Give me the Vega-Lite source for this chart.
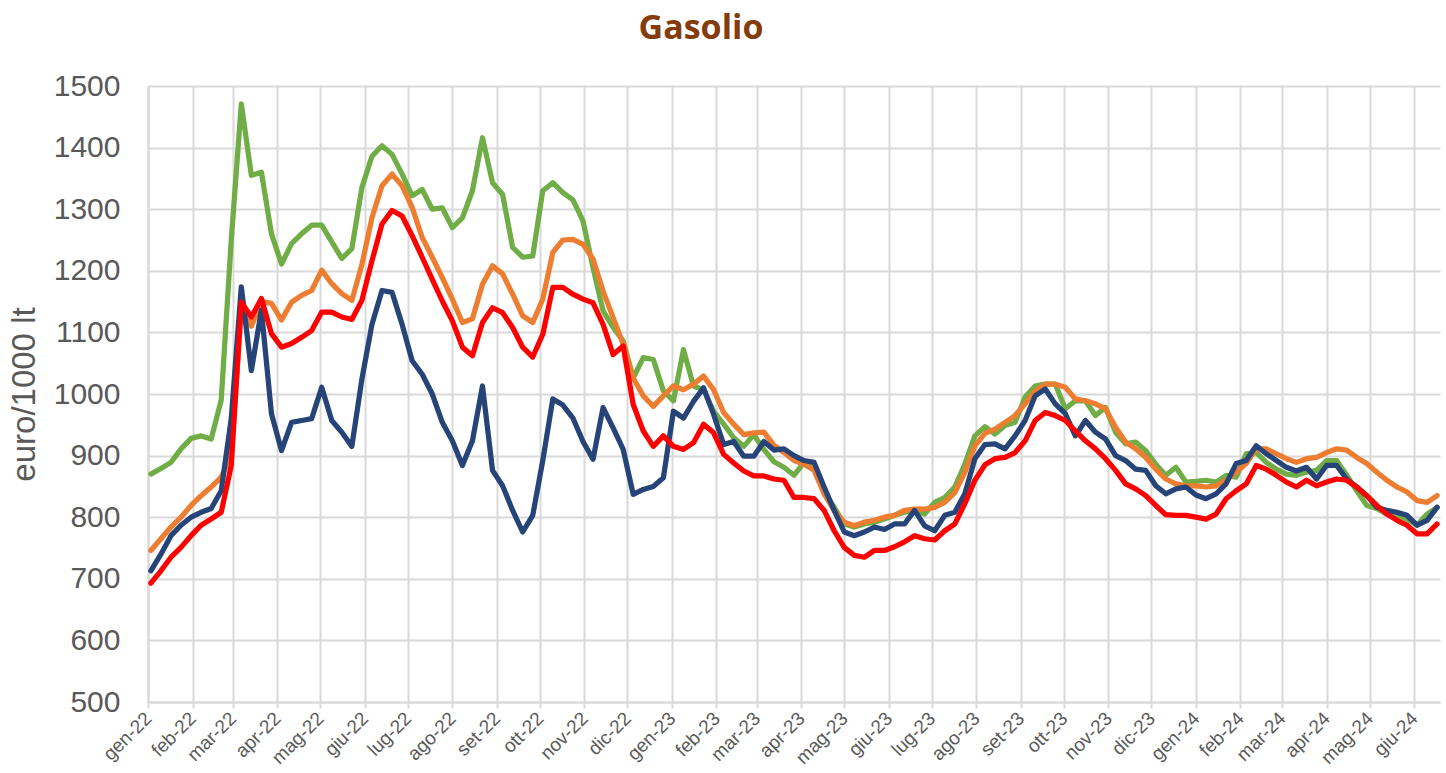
{
  "$schema": "https://vega.github.io/schema/vega-lite/v6.json",
  "width": 1292,
  "height": 616,
  "autosize": "none",
  "padding": {"left": 148, "top": 86, "right": 6, "bottom": 71},
  "background": "white",
  "title": {
    "text": "Gasolio",
    "font": "Open Sans",
    "fontSize": 34,
    "fontWeight": "bold",
    "color": "#843C0C",
    "anchor": "middle",
    "dx": -93,
    "baseline": "alphabetic",
    "offset": -2
  },
  "data": {
    "values": [
      {"d":"2022-01-03","verde":870,"arancione":746,"rosso":693,"blu":713},
      {"d":"2022-01-10","verde":879,"arancione":765,"rosso":713,"blu":740},
      {"d":"2022-01-17","verde":889,"arancione":784,"rosso":735,"blu":770},
      {"d":"2022-01-24","verde":911,"arancione":800,"rosso":751,"blu":787},
      {"d":"2022-01-31","verde":928,"arancione":819,"rosso":770,"blu":800},
      {"d":"2022-02-07","verde":932,"arancione":835,"rosso":787,"blu":808},
      {"d":"2022-02-14","verde":927,"arancione":849,"rosso":797,"blu":814},
      {"d":"2022-02-21","verde":990,"arancione":865,"rosso":808,"blu":843},
      {"d":"2022-02-28","verde":1250,"arancione":900,"rosso":884,"blu":960},
      {"d":"2022-03-07","verde":1471,"arancione":1140,"rosso":1149,"blu":1174},
      {"d":"2022-03-14","verde":1355,"arancione":1110,"rosso":1125,"blu":1038},
      {"d":"2022-03-21","verde":1360,"arancione":1150,"rosso":1155,"blu":1136},
      {"d":"2022-03-28","verde":1260,"arancione":1147,"rosso":1098,"blu":968},
      {"d":"2022-04-04","verde":1211,"arancione":1120,"rosso":1076,"blu":908},
      {"d":"2022-04-11","verde":1244,"arancione":1149,"rosso":1082,"blu":954},
      {"d":"2022-04-18","verde":1260,"arancione":1160,"rosso":1092,"blu":957},
      {"d":"2022-04-25","verde":1274,"arancione":1168,"rosso":1103,"blu":960},
      {"d":"2022-05-02","verde":1274,"arancione":1201,"rosso":1133,"blu":1011},
      {"d":"2022-05-09","verde":1247,"arancione":1179,"rosso":1133,"blu":957},
      {"d":"2022-05-16","verde":1220,"arancione":1163,"rosso":1125,"blu":938},
      {"d":"2022-05-23","verde":1236,"arancione":1152,"rosso":1121,"blu":915},
      {"d":"2022-05-30","verde":1335,"arancione":1210,"rosso":1152,"blu":1024},
      {"d":"2022-06-06","verde":1386,"arancione":1286,"rosso":1216,"blu":1113},
      {"d":"2022-06-13","verde":1403,"arancione":1338,"rosso":1276,"blu":1168},
      {"d":"2022-06-20","verde":1389,"arancione":1357,"rosso":1298,"blu":1165},
      {"d":"2022-06-27","verde":1357,"arancione":1338,"rosso":1289,"blu":1113},
      {"d":"2022-07-04","verde":1322,"arancione":1303,"rosso":1257,"blu":1054},
      {"d":"2022-07-11","verde":1332,"arancione":1254,"rosso":1222,"blu":1032},
      {"d":"2022-07-18","verde":1300,"arancione":1222,"rosso":1186,"blu":1000},
      {"d":"2022-07-25","verde":1302,"arancione":1189,"rosso":1151,"blu":954},
      {"d":"2022-08-01","verde":1270,"arancione":1154,"rosso":1119,"blu":924},
      {"d":"2022-08-08","verde":1286,"arancione":1116,"rosso":1076,"blu":884},
      {"d":"2022-08-15","verde":1330,"arancione":1122,"rosso":1062,"blu":924},
      {"d":"2022-08-22","verde":1416,"arancione":1178,"rosso":1116,"blu":1013},
      {"d":"2022-08-29","verde":1343,"arancione":1208,"rosso":1140,"blu":876},
      {"d":"2022-09-05","verde":1324,"arancione":1195,"rosso":1132,"blu":851},
      {"d":"2022-09-12","verde":1238,"arancione":1162,"rosso":1108,"blu":811},
      {"d":"2022-09-19","verde":1222,"arancione":1127,"rosso":1076,"blu":776},
      {"d":"2022-09-26","verde":1224,"arancione":1116,"rosso":1060,"blu":803},
      {"d":"2022-10-03","verde":1330,"arancione":1154,"rosso":1097,"blu":892},
      {"d":"2022-10-10","verde":1343,"arancione":1230,"rosso":1173,"blu":992},
      {"d":"2022-10-17","verde":1327,"arancione":1250,"rosso":1173,"blu":982},
      {"d":"2022-10-24","verde":1315,"arancione":1251,"rosso":1162,"blu":961},
      {"d":"2022-10-31","verde":1281,"arancione":1243,"rosso":1154,"blu":923},
      {"d":"2022-11-07","verde":1205,"arancione":1219,"rosso":1148,"blu":894},
      {"d":"2022-11-14","verde":1135,"arancione":1167,"rosso":1113,"blu":978},
      {"d":"2022-11-21","verde":1108,"arancione":1124,"rosso":1064,"blu":945},
      {"d":"2022-11-28","verde":1086,"arancione":1081,"rosso":1078,"blu":910},
      {"d":"2022-12-05","verde":1026,"arancione":1026,"rosso":983,"blu":837},
      {"d":"2022-12-12","verde":1059,"arancione":997,"rosso":940,"blu":845},
      {"d":"2022-12-19","verde":1056,"arancione":980,"rosso":915,"blu":850},
      {"d":"2022-12-26","verde":1005,"arancione":997,"rosso":932,"blu":864},
      {"d":"2023-01-02","verde":989,"arancione":1013,"rosso":915,"blu":972},
      {"d":"2023-01-09","verde":1072,"arancione":1007,"rosso":910,"blu":961},
      {"d":"2023-01-16","verde":1013,"arancione":1016,"rosso":921,"blu":988},
      {"d":"2023-01-23","verde":1007,"arancione":1029,"rosso":951,"blu":1010},
      {"d":"2023-01-30","verde":972,"arancione":1007,"rosso":937,"blu":967},
      {"d":"2023-02-06","verde":951,"arancione":970,"rosso":902,"blu":918},
      {"d":"2023-02-13","verde":929,"arancione":951,"rosso":888,"blu":923},
      {"d":"2023-02-20","verde":915,"arancione":934,"rosso":875,"blu":899},
      {"d":"2023-02-27","verde":934,"arancione":937,"rosso":867,"blu":899},
      {"d":"2023-03-06","verde":910,"arancione":938,"rosso":867,"blu":923},
      {"d":"2023-03-13","verde":890,"arancione":917,"rosso":862,"blu":909},
      {"d":"2023-03-20","verde":881,"arancione":905,"rosso":860,"blu":911},
      {"d":"2023-03-27","verde":868,"arancione":892,"rosso":832,"blu":900},
      {"d":"2023-04-03","verde":889,"arancione":886,"rosso":832,"blu":892},
      {"d":"2023-04-10","verde":881,"arancione":876,"rosso":830,"blu":889},
      {"d":"2023-04-17","verde":840,"arancione":838,"rosso":811,"blu":849},
      {"d":"2023-04-24","verde":816,"arancione":811,"rosso":778,"blu":811},
      {"d":"2023-05-01","verde":789,"arancione":792,"rosso":751,"blu":776},
      {"d":"2023-05-08","verde":784,"arancione":786,"rosso":738,"blu":770},
      {"d":"2023-05-15","verde":789,"arancione":792,"rosso":735,"blu":776},
      {"d":"2023-05-22","verde":792,"arancione":795,"rosso":746,"blu":784},
      {"d":"2023-05-29","verde":797,"arancione":800,"rosso":746,"blu":780},
      {"d":"2023-06-05","verde":803,"arancione":803,"rosso":752,"blu":789},
      {"d":"2023-06-12","verde":808,"arancione":811,"rosso":760,"blu":789},
      {"d":"2023-06-19","verde":811,"arancione":813,"rosso":770,"blu":811},
      {"d":"2023-06-26","verde":805,"arancione":813,"rosso":765,"blu":786},
      {"d":"2023-07-03","verde":824,"arancione":816,"rosso":763,"blu":778},
      {"d":"2023-07-10","verde":832,"arancione":824,"rosso":778,"blu":803},
      {"d":"2023-07-17","verde":849,"arancione":840,"rosso":789,"blu":808},
      {"d":"2023-07-24","verde":886,"arancione":873,"rosso":822,"blu":838},
      {"d":"2023-07-31","verde":932,"arancione":916,"rosso":860,"blu":895},
      {"d":"2023-08-07","verde":947,"arancione":936,"rosso":885,"blu":918},
      {"d":"2023-08-14","verde":935,"arancione":943,"rosso":895,"blu":919},
      {"d":"2023-08-21","verde":949,"arancione":954,"rosso":897,"blu":911},
      {"d":"2023-08-28","verde":954,"arancione":965,"rosso":905,"blu":932},
      {"d":"2023-09-04","verde":995,"arancione":984,"rosso":924,"blu":957},
      {"d":"2023-09-11","verde":1013,"arancione":1005,"rosso":957,"blu":997},
      {"d":"2023-09-18","verde":1016,"arancione":1016,"rosso":970,"blu":1008},
      {"d":"2023-09-25","verde":1016,"arancione":1016,"rosso":965,"blu":984},
      {"d":"2023-10-02","verde":976,"arancione":1011,"rosso":957,"blu":968},
      {"d":"2023-10-09","verde":989,"arancione":992,"rosso":940,"blu":932},
      {"d":"2023-10-16","verde":989,"arancione":989,"rosso":924,"blu":957},
      {"d":"2023-10-23","verde":965,"arancione":984,"rosso":911,"blu":938},
      {"d":"2023-10-30","verde":978,"arancione":976,"rosso":895,"blu":927},
      {"d":"2023-11-06","verde":938,"arancione":946,"rosso":876,"blu":900},
      {"d":"2023-11-13","verde":919,"arancione":922,"rosso":854,"blu":892},
      {"d":"2023-11-20","verde":922,"arancione":911,"rosso":846,"blu":878},
      {"d":"2023-11-27","verde":908,"arancione":897,"rosso":835,"blu":876},
      {"d":"2023-12-04","verde":886,"arancione":878,"rosso":819,"blu":851},
      {"d":"2023-12-11","verde":868,"arancione":862,"rosso":804,"blu":838},
      {"d":"2023-12-18","verde":881,"arancione":854,"rosso":803,"blu":846},
      {"d":"2023-12-25","verde":857,"arancione":851,"rosso":803,"blu":849},
      {"d":"2024-01-01","verde":858,"arancione":851,"rosso":800,"blu":836},
      {"d":"2024-01-08","verde":860,"arancione":849,"rosso":797,"blu":830},
      {"d":"2024-01-15","verde":857,"arancione":851,"rosso":805,"blu":838},
      {"d":"2024-01-22","verde":868,"arancione":860,"rosso":830,"blu":854},
      {"d":"2024-01-29","verde":865,"arancione":873,"rosso":843,"blu":887},
      {"d":"2024-02-05","verde":903,"arancione":887,"rosso":854,"blu":892},
      {"d":"2024-02-12","verde":905,"arancione":911,"rosso":884,"blu":916},
      {"d":"2024-02-19","verde":889,"arancione":911,"rosso":878,"blu":903},
      {"d":"2024-02-26","verde":878,"arancione":903,"rosso":868,"blu":892},
      {"d":"2024-03-04","verde":870,"arancione":895,"rosso":857,"blu":881},
      {"d":"2024-03-11","verde":868,"arancione":889,"rosso":849,"blu":875},
      {"d":"2024-03-18","verde":873,"arancione":895,"rosso":860,"blu":881},
      {"d":"2024-03-25","verde":876,"arancione":897,"rosso":851,"blu":862},
      {"d":"2024-04-01","verde":892,"arancione":905,"rosso":857,"blu":884},
      {"d":"2024-04-08","verde":892,"arancione":911,"rosso":862,"blu":884},
      {"d":"2024-04-15","verde":868,"arancione":909,"rosso":860,"blu":862},
      {"d":"2024-04-22","verde":843,"arancione":897,"rosso":849,"blu":849},
      {"d":"2024-04-29","verde":819,"arancione":887,"rosso":835,"blu":835},
      {"d":"2024-05-06","verde":814,"arancione":873,"rosso":819,"blu":816},
      {"d":"2024-05-13","verde":805,"arancione":860,"rosso":805,"blu":811},
      {"d":"2024-05-20","verde":803,"arancione":849,"rosso":795,"blu":808},
      {"d":"2024-05-27","verde":797,"arancione":841,"rosso":787,"blu":803},
      {"d":"2024-06-03","verde":787,"arancione":827,"rosso":773,"blu":787},
      {"d":"2024-06-10","verde":805,"arancione":824,"rosso":773,"blu":795},
      {"d":"2024-06-17","verde":816,"arancione":835,"rosso":789,"blu":816}
    ]
  },
  "transform": [
    {"fold": ["verde", "arancione", "blu", "rosso"], "as": ["serie", "valore"]}
  ],
  "mark": {"type": "line", "strokeWidth": 5.25, "strokeJoin": "round", "strokeCap": "round", "clip": true},
  "encoding": {
    "x": {
      "field": "d",
      "type": "temporal",
      "scale": {
        "type": "utc",
        "domain": [
          {"year": 2022, "month": 1, "date": 1, "utc": true},
          {"year": 2024, "month": 6, "date": 19, "utc": true}
        ],
        "nice": false
      },
      "axis": {
        "title": null,
        "tickCount": {"interval": "month", "step": 1},
        "labelExpr": "['gen','feb','mar','apr','mag','giu','lug','ago','set','ott','nov','dic'][utcmonth(datum.value)] + '-' + utcFormat(datum.value, '%y')",
        "labelAngle": -45,
        "labelBaseline": "middle",
        "labelFont": "Liberation Sans",
        "labelFontSize": 19,
        "labelColor": "#595959",
        "labelPadding": 7,
        "tickColor": "#D9D9D9",
        "tickSize": 6,
        "tickWidth": 2,
        "grid": true,
        "gridColor": "#D9D9D9",
        "gridWidth": 2,
        "domainColor": "#D9D9D9",
        "domainWidth": 2,
        "labelOverlap": false
      }
    },
    "y": {
      "field": "valore",
      "type": "quantitative",
      "scale": {"domain": [500, 1500], "nice": false, "zero": false},
      "axis": {
        "title": "euro/1000 lt",
        "titleFont": "Liberation Sans",
        "titleFontSize": 33,
        "titleFontWeight": "normal",
        "titleColor": "#595959",
        "titlePadding": 12,
        "format": "d",
        "values": [500, 600, 700, 800, 900, 1000, 1100, 1200, 1300, 1400, 1500],
        "labelFont": "Liberation Sans",
        "labelFontSize": 30,
        "labelColor": "#595959",
        "labelPadding": 28,
        "ticks": false,
        "grid": true,
        "gridColor": "#D9D9D9",
        "gridWidth": 2,
        "domainColor": "#D9D9D9",
        "domainWidth": 2
      }
    },
    "color": {
      "field": "serie",
      "type": "nominal",
      "scale": {
        "domain": ["verde", "arancione", "blu", "rosso"],
        "range": ["#70AD47", "#ED7D31", "#264478", "#FF0000"]
      },
      "legend": null
    }
  },
  "config": {
    "view": {"stroke": null}
  }
}
